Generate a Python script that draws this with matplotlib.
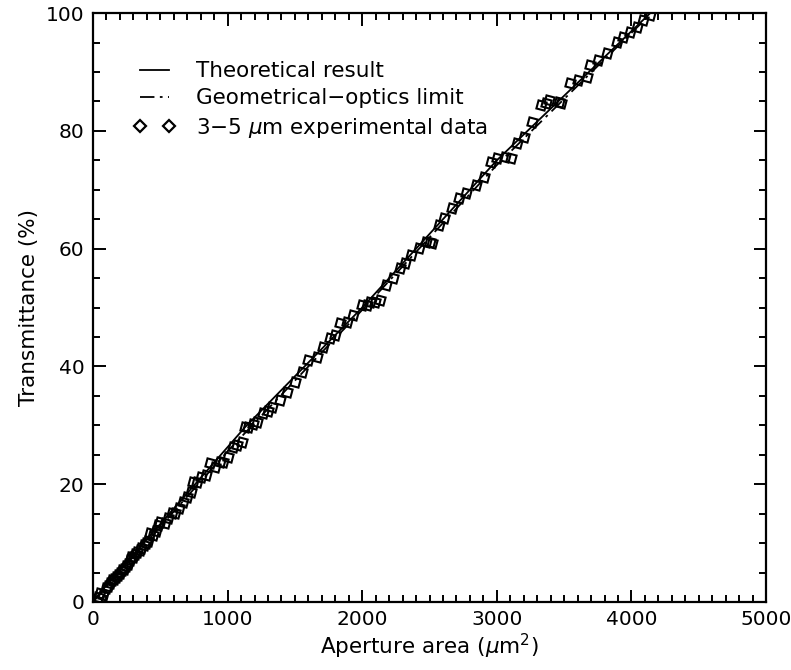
import matplotlib
matplotlib.use('Agg')
import matplotlib.pyplot as plt
from matplotlib.lines import Line2D
from matplotlib.ticker import MultipleLocator

plt.rcParams['font.family'] = 'DejaVu Sans'
plt.rcParams['mathtext.fontset'] = 'dejavusans'

# theoretical curve and geometrical-optics limit
theory_x = [0, 1130, 2000, 3000, 4140]
theory_y = [0.2, 29.7, 50.0, 75.0, 100.0]
geo_x = [0, 1000, 2000, 3000, 4150]
geo_y = [0, 25.6, 49.6, 74.2, 100.0]

# 3-5 um experimental data
exp_x = [37, 52, 74, 95, 110, 126, 140, 155, 170, 185, 201, 215, 230, 245, 260,
         275, 283, 300, 315, 330, 350, 357, 375, 395, 410, 424, 445, 465, 484,
         498, 536, 560, 588, 610, 640, 670, 700, 729, 744, 774, 800, 840, 871,
         905, 945, 967, 1000, 1042, 1070, 1109, 1131, 1153, 1190, 1220, 1265,
         1300, 1332, 1391, 1443, 1503, 1555, 1600, 1667, 1711, 1763, 1800,
         1838, 1890, 1935, 2001, 2039, 2061, 2098, 2135, 2173, 2232, 2284,
         2320, 2359, 2418, 2474, 2507, 2519, 2571, 2608, 2668, 2720, 2772,
         2846, 2906, 2958, 3003, 3060, 3107, 3152, 3204, 3264, 3331, 3368,
         3390, 3465, 3480, 3540, 3600, 3666, 3690, 3750, 3815, 3890, 3935,
         3987, 4040, 4085, 4135]
exp_y = [0.8, 1.5, 1.2, 2.3, 2.8, 3.2, 3.8, 3.9, 4.3, 4.6, 4.9, 5.4, 5.6, 6.1,
         6.4, 7.1, 7.6, 7.7, 8.1, 8.5, 8.8, 9.2, 9.6, 10.0, 10.4, 11.7, 11.4,
         12.0, 13.1, 13.6, 13.4, 14.2, 15.1, 15.1, 16.0, 17.0, 17.8, 18.7,
         20.4, 20.4, 21.2, 21.6, 23.6, 22.9, 23.8, 23.8, 24.6, 26.3, 26.7,
         27.2, 29.7, 29.7, 30.2, 30.6, 32.1, 32.4, 33.1, 34.3, 35.7, 37.4,
         39.0, 41.1, 41.6, 43.3, 44.8, 45.3, 47.4, 47.5, 48.7, 50.4, 50.4,
         50.9, 50.9, 51.3, 53.8, 55.0, 56.7, 57.6, 58.9, 60.1, 61.1, 61.1,
         61.0, 64.0, 65.2, 66.9, 68.6, 69.4, 70.8, 72.2, 74.7, 75.4, 75.6,
         75.4, 77.9, 79.0, 81.5, 84.4, 84.7, 85.2, 84.9, 84.7, 88.1, 88.6,
         89.1, 91.2, 92.0, 93.2, 95.1, 95.9, 96.8, 97.6, 98.8, 99.7]

fig = plt.figure(figsize=(7.91, 6.70), dpi=100)
ax = fig.add_axes([0.1176, 0.1015, 0.8509, 0.879])

dashdot = (0, (8, 3, 1.5, 3))
ax.plot(theory_x, theory_y, color='black', lw=1.3, solid_capstyle='butt')
ax.plot(geo_x, geo_y, color='black', lw=1.3, linestyle=dashdot)
ax.plot(exp_x, exp_y, linestyle='none', marker=(4, 0, 30), markersize=8.5,
        markerfacecolor='none', markeredgecolor='black', markeredgewidth=1.5)

ax.set_xlim(0, 5000)
ax.set_ylim(0, 100)
ax.xaxis.set_major_locator(MultipleLocator(1000))
ax.xaxis.set_minor_locator(MultipleLocator(100))
ax.yaxis.set_major_locator(MultipleLocator(20))
ax.yaxis.set_minor_locator(MultipleLocator(5))
ax.tick_params(which='both', direction='in', top=True, right=True,
               labelsize=14.5, width=1.4, pad=6)
ax.tick_params(which='major', length=9)
ax.tick_params(which='minor', length=5)
for sp in ax.spines.values():
    sp.set_linewidth(1.6)

ax.set_xlabel(r'Aperture area ($\mu$m$^2$)', fontsize=15.5, labelpad=2)
ax.set_ylabel('Transmittance (%)', fontsize=15.5, labelpad=5)

handles = [
    Line2D([], [], color='black', lw=1.3),
    Line2D([], [], color='black', lw=1.3, linestyle=dashdot),
    Line2D([], [], linestyle='none', marker='D', markersize=5.8,
           markerfacecolor='none', markeredgecolor='black', markeredgewidth=1.6),
]
labels = ['Theoretical result', 'Geometrical\u2212optics limit',
          r'3$-$5 $\mu$m experimental data']
ax.legend(handles, labels, loc='upper left', bbox_to_anchor=(0.06, 0.918),
          frameon=False, fontsize=15.5, numpoints=2, handlelength=1.95,
          handletextpad=0.95, labelspacing=0.33, borderpad=0, borderaxespad=0)

fig.savefig('out.png', dpi=100, facecolor='white')
